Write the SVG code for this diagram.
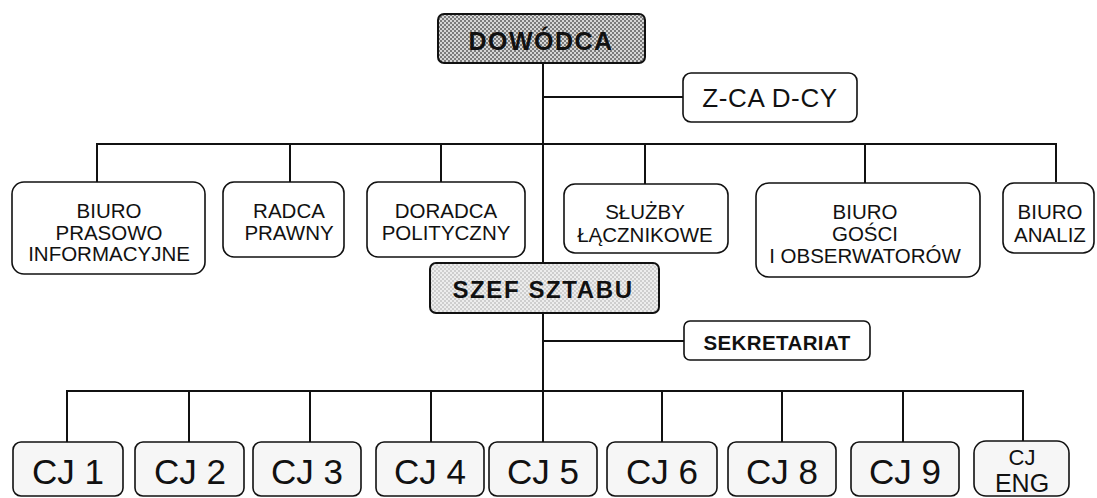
<svg xmlns="http://www.w3.org/2000/svg" width="1097" height="498" viewBox="0 0 1097 498">
  <defs>
    <!-- halftone fills for the two headline boxes -->
    <pattern id="dotsDark" width="4" height="4" patternUnits="userSpaceOnUse">
      <rect width="4" height="4" fill="#d6d6d6"/>
      <circle cx="1" cy="1" r="1" fill="#5c5c5c"/>
      <circle cx="3" cy="3" r="1" fill="#5c5c5c"/>
    </pattern>
    <pattern id="dotsLight" width="4" height="4" patternUnits="userSpaceOnUse">
      <rect width="4" height="4" fill="#ededed"/>
      <circle cx="1" cy="1" r="0.8" fill="#a6a6a6"/>
      <circle cx="3" cy="3" r="0.8" fill="#a6a6a6"/>
    </pattern>
    <style>
      .box { fill: #ffffff; stroke: #111; stroke-width: 1.6; }
      .cj { fill: #f6f6f6; stroke: #111; stroke-width: 1.6; }
      .lbl { font-family: "Liberation Sans", Arial, sans-serif; font-size: 20.5px; fill: #111; text-anchor: middle; }
      .cjt { font-family: "Liberation Sans", Arial, sans-serif; font-size: 35px; fill: #111; text-anchor: middle; }
      .bold { font-family: "Liberation Sans", Arial, sans-serif; font-weight: bold; fill: #111; text-anchor: middle; }
      .wire { fill: none; stroke: #111; stroke-width: 2; }
    </style>
  </defs>
  <rect width="1097" height="498" fill="#ffffff"/>

  <!-- connectors -->
  <g id="connectors" class="wire">
    <path d="M543 63 V263"/>
    <path d="M543 97 H683"/>
    <path d="M97 182 V144 H1056 V182"/>
    <path d="M290 144 V182 M441 144 V182 M645 144 V184 M865 144 V183"/>
    <path d="M543 313 V442"/>
    <path d="M543 341 H684"/>
    <path d="M67 442 V391 H1023 V441"/>
    <path d="M189 391 V442 M310 391 V442 M431 391 V442 M662 391 V442 M782 391 V442 M903 391 V442"/>
  </g>

  <g id="dowodca">
    <rect x="438" y="14" width="207" height="49" rx="6" fill="url(#dotsDark)" stroke="#111" stroke-width="2"/>
    <text class="bold" x="541" y="50" style="font-size:25px" letter-spacing="1.5">DOWÓDCA</text>
  </g>

  <g id="zca-dcy">
    <rect class="box" x="683" y="73" width="174" height="49" rx="8"/>
    <text class="lbl" x="770" y="107" style="font-size:26px" letter-spacing="0.6">Z-CA D-CY</text>
  </g>

  <g id="biuro-prasowo">
    <rect class="box" x="12" y="182" width="193" height="92" rx="12"/>
    <text class="lbl" x="109" y="218">BIURO</text>
    <text class="lbl" x="109" y="239.5">PRASOWO</text>
    <text class="lbl" x="109" y="261">INFORMACYJNE</text>
  </g>

  <g id="radca-prawny">
    <rect class="box" x="223" y="182" width="121" height="75" rx="11"/>
    <text class="lbl" x="289" y="218">RADCA</text>
    <text class="lbl" x="289" y="239.5">PRAWNY</text>
  </g>

  <g id="doradca">
    <rect class="box" x="367" y="182" width="158" height="75" rx="11"/>
    <text class="lbl" x="446" y="218">DORADCA</text>
    <text class="lbl" x="446" y="239.5">POLITYCZNY</text>
  </g>

  <g id="sluzby">
    <rect class="box" x="564" y="184" width="164" height="69" rx="11"/>
    <text class="lbl" x="645" y="219">SŁUŻBY</text>
    <text class="lbl" x="645" y="242">ŁĄCZNIKOWE</text>
  </g>

  <g id="biuro-gosci">
    <rect class="box" x="756" y="183" width="224" height="94" rx="13"/>
    <text class="lbl" x="865" y="219">BIURO</text>
    <text class="lbl" x="865" y="241">GOŚCI</text>
    <text class="lbl" x="865" y="263">I OBSERWATORÓW</text>
  </g>

  <g id="biuro-analiz">
    <rect class="box" x="1003" y="183" width="91" height="70" rx="11"/>
    <text class="lbl" x="1050" y="219">BIURO</text>
    <text class="lbl" x="1050" y="242">ANALIZ</text>
  </g>

  <g id="szef-sztabu">
    <rect x="430" y="263" width="229" height="50" rx="6" fill="url(#dotsLight)" stroke="#111" stroke-width="2"/>
    <text class="bold" x="543" y="298" style="font-size:24px" letter-spacing="1.6">SZEF SZTABU</text>
  </g>

  <g id="sekretariat">
    <rect class="box" x="684" y="321" width="186" height="39" rx="6"/>
    <text class="bold" x="777" y="350" style="font-size:20.5px" letter-spacing="0.4">SEKRETARIAT</text>
  </g>

  <g id="cj1"><rect class="cj" x="13" y="442" width="110" height="54" rx="8"/><text class="cjt" x="68" y="484">CJ 1</text></g>
  <g id="cj2"><rect class="cj" x="135" y="442" width="109" height="54" rx="8"/><text class="cjt" x="190" y="484">CJ 2</text></g>
  <g id="cj3"><rect class="cj" x="253" y="442" width="108" height="54" rx="8"/><text class="cjt" x="307" y="484">CJ 3</text></g>
  <g id="cj4"><rect class="cj" x="376" y="442" width="108" height="54" rx="8"/><text class="cjt" x="430" y="484">CJ 4</text></g>
  <g id="cj5"><rect class="cj" x="489" y="442" width="108" height="54" rx="8"/><text class="cjt" x="543" y="484">CJ 5</text></g>
  <g id="cj6"><rect class="cj" x="607" y="442" width="110" height="54" rx="8"/><text class="cjt" x="662" y="484">CJ 6</text></g>
  <g id="cj8"><rect class="cj" x="728" y="442" width="108" height="54" rx="8"/><text class="cjt" x="782" y="484">CJ 8</text></g>
  <g id="cj9"><rect class="cj" x="851" y="442" width="108" height="54" rx="8"/><text class="cjt" x="905" y="484">CJ 9</text></g>
  <g id="cj-eng">
    <rect class="cj" x="974" y="441" width="95" height="55" rx="12"/>
    <text class="cjt" x="1022" y="465" style="font-size:22px">CJ</text>
    <text class="cjt" x="1022" y="492" style="font-size:25px">ENG</text>
  </g>
</svg>
